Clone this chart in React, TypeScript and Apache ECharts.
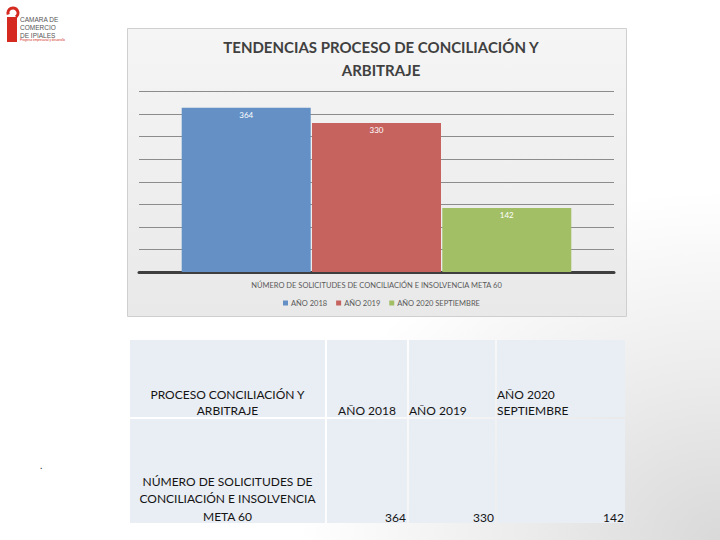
import React, { useEffect, useRef } from "react";
import * as echarts from "echarts";

const chartTitle = "TENDENCIAS PROCESO DE CONCILIACIÓN Y\nARBITRAJE";
const categories = ["NÚMERO DE SOLICITUDES DE CONCILIACIÓN E INSOLVENCIA META 60"];
const seriesNames = ["AÑO 2018", "AÑO 2019", "AÑO 2020 SEPTIEMBRE"];
const seriesValues = [364, 330, 142];
const seriesColors = ["#6490c5", "#c6635f", "#a3bf66"];

const tableHeader = ["PROCESO CONCILIACIÓN Y\nARBITRAJE", "AÑO 2018", "AÑO 2019", "AÑO 2020\nSEPTIEMBRE"];
const tableRowLabel = "NÚMERO DE SOLICITUDES DE\nCONCILIACIÓN E INSOLVENCIA\nMETA 60";
const tableValues = [364, 330, 142];

export default function App() {
  const ref = useRef<HTMLDivElement>(null);

  useEffect(() => {
    if (!ref.current) return;
    const chart = echarts.init(ref.current, undefined, { renderer: "svg" });

    const font = "Lato, 'Open Sans', sans-serif";
    const colX = [130, 327, 409, 497, 627];
    const rowY = [340, 419, 525];
    const tableGraphics: any[] = [];
    for (let r = 0; r < 2; r++) {
      for (let c = 0; c < 4; c++) {
        tableGraphics.push({
          type: "rect",
          shape: { x: colX[c], y: rowY[r], width: colX[c + 1] - colX[c] - 2, height: rowY[r + 1] - rowY[r] - 2 },
          style: { fill: "#e9edf4" },
          z: -5,
        });
      }
    }
    const textStyleBase = { font: `12px ${font}`, fill: "#141414", lineHeight: 16 };
    tableGraphics.push({
      type: "text",
      x: (colX[0] + colX[1]) / 2 - 1,
      y: 418,
      style: { ...textStyleBase, text: tableHeader[0], textAlign: "center", textVerticalAlign: "bottom" },
    });
    tableGraphics.push({
      type: "text",
      x: (colX[1] + colX[2]) / 2 - 1,
      y: 418,
      style: { ...textStyleBase, text: tableHeader[1], textAlign: "center", textVerticalAlign: "bottom" },
    });
    tableGraphics.push({
      type: "text",
      x: colX[2],
      y: 418,
      style: { ...textStyleBase, text: tableHeader[2], textAlign: "left", textVerticalAlign: "bottom" },
    });
    tableGraphics.push({
      type: "text",
      x: colX[3],
      y: 418,
      style: { ...textStyleBase, text: tableHeader[3], textAlign: "left", textVerticalAlign: "bottom" },
    });
    tableGraphics.push({
      type: "text",
      x: (colX[0] + colX[1]) / 2 - 1,
      y: 525,
      style: { ...textStyleBase, lineHeight: 17.5, text: tableRowLabel, textAlign: "center", textVerticalAlign: "bottom" },
    });
    tableValues.forEach((v, i) => {
      tableGraphics.push({
        type: "text",
        x: colX[i + 2] - 3,
        y: 525,
        style: { ...textStyleBase, text: String(v), textAlign: "right", textVerticalAlign: "bottom" },
      });
    });

    const option: any = {
      animation: false,
      backgroundColor: "#ffffff",
      title: {
        text: chartTitle,
        left: 376,
        top: 30,
        textAlign: "center",
        textStyle: { fontFamily: font, fontSize: 15, fontWeight: "bold", color: "#404040", lineHeight: 23 },
      },
      legend: {
        data: seriesNames,
        left: 278,
        top: 294,
        itemWidth: 5,
        itemHeight: 5,
        itemGap: 9,
        icon: "rect",
        textStyle: { fontFamily: font, fontSize: 7.5, color: "#595959", padding: [0, 0, 0, -2] },
      },
      grid: { left: 139, right: 106, top: 91.5, bottom: 268, containLabel: false },
      xAxis: {
        type: "category",
        data: categories,
        axisLine: { lineStyle: { color: "#3f3f3f", width: 3 } },
        axisTick: { show: false },
        axisLabel: { fontFamily: font, fontSize: 7.5, color: "#595959", margin: 9 },
      },
      yAxis: {
        type: "value",
        min: 0,
        max: 400,
        interval: 50,
        axisLabel: { show: false },
        axisLine: { show: false },
        axisTick: { show: false },
        splitLine: { lineStyle: { color: "#8c8c8c", width: 1 } },
      },
      series: seriesNames.map((name, i) => ({
        type: "bar",
        name,
        data: [seriesValues[i]],
        barWidth: 129,
        barGap: "1%",
        itemStyle: { color: seriesColors[i] },
        label: {
          show: true,
          position: "insideTop",
          distance: 3,
          color: "#ffffff",
          fontFamily: font,
          fontSize: 8,
        },
      })),
      graphic: [
        {
          type: "rect",
          z: -30,
          shape: { x: 300, y: 190, width: 420, height: 350 },
          style: {
            fill: new echarts.graphic.RadialGradient(1, 1, 1, [
              { offset: 0, color: "#d9d9d9" },
              { offset: 0.45, color: "#ebebeb" },
              { offset: 1, color: "#ffffff" },
            ]),
          },
        },
        {
          type: "rect",
          z: -10,
          shape: { x: 127.5, y: 28.5, width: 499, height: 288 },
          style: {
            fill: new echarts.graphic.LinearGradient(0, 0, 0, 1, [
              { offset: 0, color: "#f5f5f5" },
              { offset: 1, color: "#e9e9e9" },
            ]),
            stroke: "#cfcfcf",
            lineWidth: 1,
          },
        },
        {
          type: "rect",
          shape: { x: 7, y: 17, width: 10, height: 25 },
          style: { fill: "#d42a20" },
        },
        {
          type: "arc",
          shape: { cx: 13, cy: 13, r: 5, startAngle: Math.PI * 0.9, endAngle: Math.PI * 2.3 },
          style: { stroke: "#d42a20", lineWidth: 3, fill: "none" },
        },
        {
          type: "text",
          x: 20,
          y: 15,
          style: { text: "CAMARA DE\nCOMERCIO\nDE IPIALES", font: `6.5px 'Liberation Sans Narrow', 'Liberation Sans', sans-serif`, fill: "#555555", lineHeight: 8 },
        },
        {
          type: "text",
          x: 20,
          y: 38,
          style: { text: "Progreso empresarial y desarrollo", font: `3px 'Liberation Sans', sans-serif`, fill: "#d42a20" },
        },
        {
          type: "text",
          x: 40,
          y: 460,
          style: { text: ".", font: `10px ${font}`, fill: "#333" },
        },
        ...tableGraphics,
      ],
    };

    chart.setOption(option);
    return () => chart.dispose();
  }, []);

  return (
    <div
      ref={ref}
      style={{ position: "fixed", left: 0, top: 0, width: 720, height: 540 }}
    />
  );
}
